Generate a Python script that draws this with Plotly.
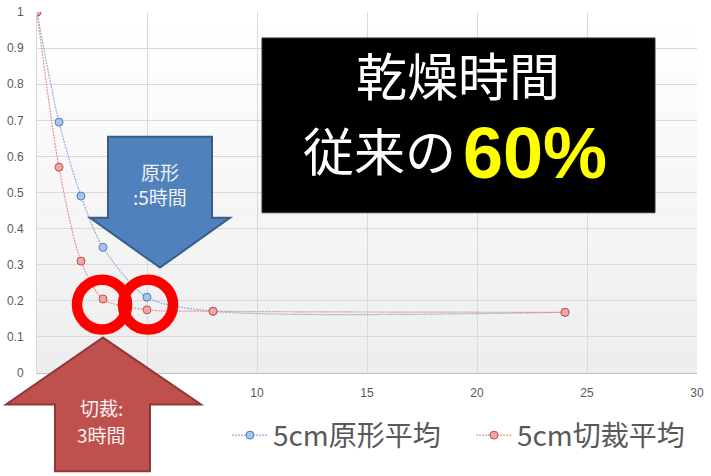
import plotly.graph_objects as go

# ---- data ----
hours = [0, 1, 2, 3, 5, 8, 24]
genkei = [1.0, 0.695, 0.49, 0.348, 0.21, 0.171, 0.168]     # 5cm原形平均
setsusai = [1.0, 0.57, 0.31, 0.205, 0.175, 0.171, 0.168]  # 5cm切裁平均
series_names = ["5cm原形平均", "5cm切裁平均"]
x_ticks = [0, 5, 10, 15, 20, 25, 30]
y_ticks = [0, 0.1, 0.2, 0.3, 0.4, 0.5, 0.6, 0.7, 0.8, 0.9, 1.0]

W, H = 711, 476
L, R, T, B = 37, 697, 12, 373.5

def px(x):
    return (x - L) / (R - L)

def py(y):
    return (B - y) / (B - T)

def path(pts):
    return "M " + " L ".join(f"{px(a):.5f},{py(b):.5f}" for a, b in pts) + " Z"

fig = go.Figure()
fig.add_trace(go.Scatter(
    x=hours, y=genkei, name=series_names[0], mode="lines+markers",
    line=dict(shape="spline", smoothing=0.8, dash="2px,1px", width=1.2, color="#8fb0de"),
    marker=dict(size=8, color="#a9c3ec", line=dict(color="#4f7fc0", width=1)),
))
fig.add_trace(go.Scatter(
    x=hours, y=setsusai, name=series_names[1], mode="lines+markers",
    line=dict(shape="spline", smoothing=0.8, dash="2px,1px", width=1.2, color="#e69292"),
    marker=dict(size=8, color="#f4a4a4", line=dict(color="#c0504d", width=1)),
))

shapes = []
# plot-area gradient
n = 30
for i in range(n):
    t = i / n
    c = int(round(255 - 18 * t))
    shapes.append(dict(type="rect", xref="x domain", yref="y domain",
                       x0=0, x1=1, y0=1 - (i + 1) / n, y1=1 - i / n,
                       fillcolor=f"rgb({c},{c},{c})", line=dict(width=0), layer="below"))
# black box
shapes.append(dict(type="rect", xref="paper", yref="paper",
                   x0=px(262), x1=px(655), y0=py(213), y1=py(38),
                   fillcolor="#000000", line=dict(color="#333333", width=1), layer="above"))
# blue arrow
shapes.append(dict(type="path", xref="paper", yref="paper",
                   path=path([(108, 137), (212, 137), (212, 218), (230, 218), (160, 268), (90, 218), (108, 218)]),
                   fillcolor="#4f81bd", line=dict(color="#385d8a", width=2), layer="above"))
# red arrow
shapes.append(dict(type="path", xref="paper", yref="paper",
                   path=path([(103, 338), (201, 405), (150, 405), (150, 472), (55, 472), (55, 405), (6, 405)]),
                   fillcolor="#c0504d", line=dict(color="#8c3836", width=2), layer="above"))
# red rings
for cx in (102, 148):
    shapes.append(dict(type="circle", xref="paper", yref="paper",
                       x0=px(cx - 25), x1=px(cx + 25), y0=py(330), y1=py(280),
                       fillcolor="rgba(0,0,0,0)", line=dict(color="#ff0000", width=10.5), layer="above"))

jp = "Noto Sans CJK JP"
annotations = [
    dict(text="乾燥時間", x=px(458), y=py(74.5), xanchor="center",
         font=dict(family=jp, size=51, color="#ffffff")),
    dict(text="従来の", x=px(457), y=py(149.5), xanchor="right",
         font=dict(family=jp, size=51, color="#ffffff")),
    dict(text="<b>60%</b>", x=px(462), y=py(153), xanchor="left",
         font=dict(family="Liberation Sans", size=72, color="#ffff00")),
    dict(text="原形", x=px(160), y=py(172), font=dict(family=jp, size=19, color="#f2f2f2")),
    dict(text=":5時間", x=px(160), y=py(197), font=dict(family=jp, size=19, color="#f2f2f2")),
    dict(text="切裁:", x=px(101), y=py(408), font=dict(family=jp, size=19, color="#f2f2f2")),
    dict(text="3時間", x=px(101), y=py(435), font=dict(family=jp, size=19, color="#f2f2f2")),
]
for a in annotations:
    a.setdefault("xanchor", "center")
    a.update(xref="paper", yref="paper", showarrow=False, yanchor="middle", borderpad=0)

fig.update_layout(
    width=W, height=H,
    margin=dict(l=L, r=W - R, t=T, b=H - B, autoexpand=False),
    paper_bgcolor="#ffffff", plot_bgcolor="rgba(0,0,0,0)",
    showlegend=True,
    legend=dict(orientation="h", x=px(227), xanchor="left", y=py(436), yanchor="middle",
                font=dict(family=jp, size=28, color="#595959"), bgcolor="rgba(0,0,0,0)",
                itemwidth=36, entrywidth=193, traceorder="normal"),
    shapes=shapes, annotations=annotations,
    xaxis=dict(range=[0, 30], tickvals=x_ticks, ticktext=[str(v) for v in x_ticks],
               showgrid=True, gridcolor="#d9d9d9", gridwidth=1, zeroline=False,
               showline=True, linecolor="#bfbfbf", linewidth=1,
               ticks="outside", ticklen=9, tickcolor="rgba(0,0,0,0)",
               tickfont=dict(family="Liberation Sans", size=12, color="#595959")),
    yaxis=dict(range=[0, 1], tickvals=y_ticks, ticktext=[f"{v:g}" for v in y_ticks],
               showgrid=True, gridcolor="#d9d9d9", gridwidth=1, zeroline=False,
               showline=True, linecolor="#d9d9d9", linewidth=1,
               ticks="outside", ticklen=10, tickcolor="rgba(0,0,0,0)",
               tickfont=dict(family="Liberation Sans", size=12, color="#595959")),
)

fig.write_html("out.html", config={"displayModeBar": False},
               post_script="document.body.style.margin='0';")
